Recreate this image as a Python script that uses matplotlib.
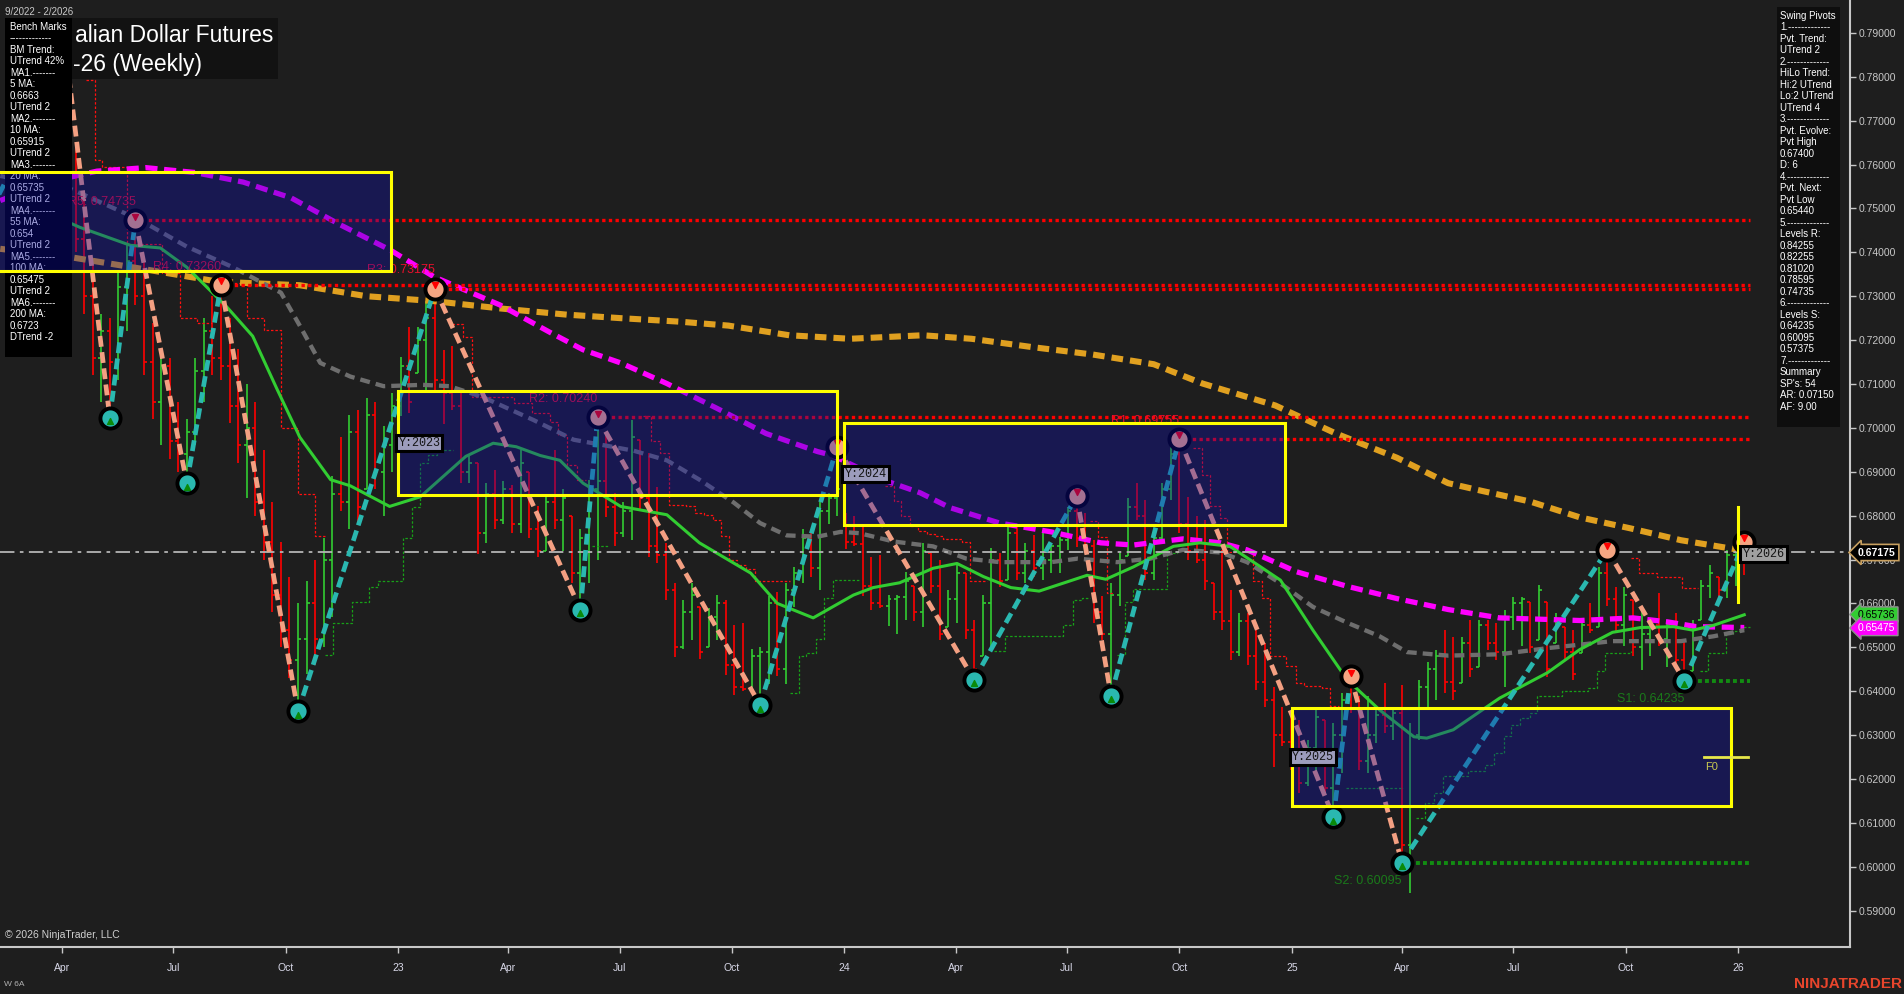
import datetime as dt
import numpy as np
import matplotlib
matplotlib.use('Agg')
import matplotlib.pyplot as plt
from matplotlib.patches import Rectangle

plt.rcParams['font.family'] = ['Liberation Sans', 'DejaVu Sans']

W, H = 1904, 994
BG = '#1e1e1e'

# weekly bars (price * 10000); x = week index counted from 10 Jan 2023
first_bar = -40
bar_hi = [7836, 7640, 7520, 7380, 7260, 7250, 7360, 7420, 7474, 7380,
          7240, 7180, 7160, 7060, 7020, 7160, 7250, 7300, 7326, 7250,
          7180, 7100, 7060, 6950, 6830, 6740, 6660, 6600, 6650, 6700,
          6750, 6890, 6980, 7030, 7040, 7067, 7060, 7004, 7080, 7161,
          7230, 7230, 7290, 7318, 7178, 7186, 7079, 6935, 6921, 6874,
          6904, 6880, 6870, 6949, 6900, 6822, 6850, 6949, 6860, 6799,
          6769, 6882, 7024, 6990, 6852, 6830, 7017, 6973, 6943, 6866,
          6738, 6647, 6608, 6647, 6592, 6590, 6620, 6608, 6550, 6555,
          6495, 6500, 6617, 6625, 6647, 6683, 6769, 6770, 6830, 6852,
          6957, 6805, 6800, 6774, 6705, 6710, 6620, 6620, 6672, 6640,
          6737, 6714, 6699, 6630, 6691, 6669, 6563, 6619, 6726, 6714,
          6775, 6775, 6737, 6756, 6767, 6737, 6752, 6820, 6845, 6805,
          6745, 6616, 6646, 6714, 6840, 6874, 6836, 6767, 6874, 6957,
          6976, 6843, 6800, 6790, 6646, 6722, 6631, 6577, 6577, 6540,
          6509, 6410, 6365, 6350, 6335, 6289, 6357, 6335, 6327, 6395,
          6434, 6388, 6388, 6357, 6418, 6357, 6414, 6327, 6426, 6467,
          6494, 6540, 6524, 6524, 6562, 6562, 6562, 6555, 6585, 6615,
          6615, 6604, 6642, 6604, 6577, 6547, 6540, 6562, 6600, 6684,
          6722, 6638, 6638, 6608, 6593, 6562, 6623, 6562, 6577, 6517,
          6562, 6653, 6687, 6661, 6722, 6735, 6741]
bar_lo = [7540, 7400, 7260, 7120, 7060, 7023, 7110, 7220, 7280, 7120,
          7020, 6960, 6930, 6900, 6874, 6960, 7060, 7120, 7110, 7010,
          6920, 6840, 6800, 6700, 6580, 6500, 6430, 6354, 6440, 6460,
          6500, 6570, 6810, 6770, 6780, 6860, 6860, 6800, 6900, 7026,
          7034, 7125, 7080, 7079, 7009, 7040, 6874, 6874, 6713, 6738,
          6769, 6780, 6760, 6760, 6750, 6705, 6720, 6769, 6720, 6647,
          6586, 6647, 6700, 6796, 6730, 6752, 6744, 6813, 6705, 6691,
          6608, 6478, 6495, 6517, 6473, 6500, 6517, 6437, 6392, 6400,
          6396, 6368, 6417, 6434, 6417, 6592, 6647, 6660, 6630, 6782,
          6800, 6725, 6730, 6617, 6586, 6590, 6548, 6530, 6563, 6560,
          6547, 6623, 6517, 6547, 6555, 6520, 6426, 6479, 6502, 6638,
          6654, 6654, 6646, 6661, 6654, 6669, 6669, 6722, 6729, 6714,
          6555, 6517, 6390, 6593, 6707, 6790, 6654, 6654, 6745, 6836,
          6760, 6699, 6691, 6631, 6563, 6540, 6471, 6479, 6460, 6403,
          6365, 6228, 6274, 6221, 6168, 6183, 6213, 6168, 6113, 6213,
          6350, 6221, 6213, 6281, 6304, 6289, 6008, 5940, 6289, 6365,
          6380, 6395, 6380, 6418, 6433, 6456, 6494, 6471, 6410, 6540,
          6502, 6486, 6517, 6433, 6509, 6471, 6426, 6486, 6532, 6547,
          6593, 6532, 6502, 6479, 6448, 6479, 6502, 6456, 6456, 6423,
          6445, 6562, 6612, 6615, 6612, 6640, 6665]
bar_cl = [7570, 7430, 7300, 7160, 7220, 7150, 7320, 7380, 7300, 7150,
          7060, 7140, 6970, 6940, 6990, 7130, 7220, 7160, 7140, 7050,
          6960, 7000, 6830, 6740, 6620, 6540, 6470, 6520, 6600, 6520,
          6700, 6850, 6830, 6990, 6820, 7030, 6900, 6960, 7050, 7140,
          7060, 7200, 7250, 7110, 7080, 7050, 6900, 6920, 6760, 6850,
          6790, 6860, 6780, 6920, 6770, 6720, 6830, 6790, 6840, 6670,
          6750, 6860, 6880, 6820, 6760, 6810, 6980, 6840, 6730, 6710,
          6630, 6500, 6580, 6620, 6490, 6570, 6600, 6460, 6410, 6405,
          6480, 6490, 6600, 6450, 6630, 6670, 6750, 6680, 6810, 6840,
          6860, 6740, 6735, 6640, 6600, 6595, 6610, 6615, 6650, 6580,
          6720, 6640, 6530, 6610, 6670, 6540, 6450, 6600, 6700, 6650,
          6760, 6670, 6720, 6680, 6700, 6730, 6745, 6810, 6750, 6730,
          6580, 6530, 6620, 6700, 6820, 6800, 6670, 6750, 6860, 6940,
          6780, 6720, 6700, 6650, 6580, 6560, 6490, 6560, 6480, 6420,
          6380, 6300, 6285, 6240, 6190, 6270, 6340, 6180, 6300, 6380,
          6360, 6240, 6300, 6345, 6320, 6350, 6050, 6300, 6410, 6450,
          6480, 6420, 6400, 6510, 6450, 6550, 6510, 6490, 6570, 6600,
          6610, 6500, 6630, 6450, 6560, 6490, 6440, 6550, 6540, 6670,
          6610, 6550, 6620, 6500, 6530, 6550, 6520, 6550, 6470, 6440,
          6550, 6640, 6670, 6630, 6710, 6730, 6718]

# moving averages (week index, price)
ma20_x = [-40, -38.5, -32.6, -29.1, -26.0, -21.3, -18.3, -15.5, -12.8, -9.2, -6.9, -2.3, 1.3, 6.6, 9.8,
          12.5, 15.3, 17.6, 20.3, 24.7, 30.1, 33.9, 39.9, 43.0, 47.2, 51.9, 54.2, 57.3, 61.2, 64.0,
          67.1, 70.3, 73.6, 79.2, 81.4, 84.6, 89.3, 92.4, 95.9, 101.8, 105.6, 109.6, 113.4, 117.4,
          118.9, 122.0, 127.4, 133.0, 136.8, 140.6, 143.9, 147.7, 150.0, 152.4, 156.0]
ma20_y = [0.7470, 0.7457, 0.7416, 0.7410, 0.7366, 0.7275, 0.7209, 0.7090, 0.6979, 0.6882, 0.6868, 0.6821,
          0.6843, 0.6935, 0.6965, 0.6957, 0.6937, 0.6926, 0.6874, 0.6821, 0.6802, 0.6738, 0.6669, 0.6600,
          0.6567, 0.6619, 0.6636, 0.6647, 0.6680, 0.6691, 0.6661, 0.6636, 0.6628, 0.6664, 0.6655, 0.6683,
          0.6730, 0.6738, 0.6730, 0.6653, 0.6539, 0.6426, 0.6357, 0.6296, 0.6293, 0.6312, 0.6384, 0.6442,
          0.6495, 0.6534, 0.6545, 0.6547, 0.6539, 0.6550, 0.6574]
ma55_x = [-47.8, -39.4, -31.5, -26.0, -20.6, -15.0, -12.8, -10.4, -6.9, -3.0, 1.6, 4.7, 8.6, 14.5, 19.2,
          22.3, 26.2, 30.1, 33.9, 37.9, 41.0, 44.1, 47.7, 50.4, 52.6, 56.6, 61.2, 65.1, 69.0, 75.0, 78.1,
          82.7, 86.6, 90.4, 94.8, 97.9, 101.7, 105.6, 109.6, 113.4, 116.6, 121.4, 127.4, 133.0, 140.6,
          148.6, 152.4, 156.0]
ma55_y = [0.7574, 0.7543, 0.7474, 0.7413, 0.7366, 0.7308, 0.7233, 0.7148, 0.7117, 0.7095, 0.7098, 0.7095,
          0.7070, 0.7018, 0.6973, 0.6962, 0.6948, 0.6926, 0.6882, 0.6830, 0.6783, 0.6755, 0.6752, 0.6763,
          0.6760, 0.6741, 0.6730, 0.6702, 0.6694, 0.6694, 0.6702, 0.6694, 0.6702, 0.6722, 0.6716, 0.6694,
          0.6647, 0.6592, 0.6556, 0.6525, 0.6489, 0.6481, 0.6484, 0.6498, 0.6514, 0.6514, 0.6525, 0.6539]
ma100_x = [-47.8, -42.2, -36.5, -30.8, -25.1, -19.4, -13.8, -8.1, -2.2, 2.9, 10.6, 16.5, 20.3, 24.7, 30.1,
           35.9, 41.7, 47.7, 49.5, 55.3, 59.7, 63.2, 69.0, 75.0, 80.8, 84.6, 90.4, 94.8, 97.9, 103.7,
           109.6, 115.4, 121.4, 127.4, 136.8, 143.0, 147.0, 150.4, 156.0]
ma100_y = [0.7518, 0.7560, 0.7585, 0.7593, 0.7582, 0.7560, 0.7524, 0.7463, 0.7405, 0.7344, 0.7280, 0.7217,
           0.7178, 0.7148, 0.7101, 0.7045, 0.6987, 0.6946, 0.6937, 0.6882, 0.6852, 0.6818, 0.6783, 0.6763,
           0.6738, 0.6733, 0.6747, 0.6738, 0.6722, 0.6672, 0.6639, 0.6611, 0.6586, 0.6567, 0.6561, 0.6567,
           0.6558, 0.6547, 0.6545]
ma200_x = [-47.8, -39.3, -30.8, -22.3, -12.8, -5.0, 2.8, 10.7, 18.4, 24.7, 31.6, 37.3, 44.4, 51.5, 60.0,
           65.7, 72.8, 79.9, 87.0, 92.7, 101.2, 108.3, 115.4, 121.4, 125.2, 131.0, 136.8, 142.7, 148.6, 156.0]
ma200_y = [0.7408, 0.7388, 0.7361, 0.7333, 0.7325, 0.7300, 0.7289, 0.7272, 0.7258, 0.7250, 0.7242, 0.7233,
           0.7211, 0.7203, 0.7211, 0.7203, 0.7184, 0.7167, 0.7145, 0.7101, 0.7051, 0.6987, 0.6932, 0.6874,
           0.6857, 0.6832, 0.6796, 0.6771, 0.6744, 0.6720]

# swing pivots
piv_x = [-48, -40, -35, -32, -26, -22, -13, 3, 20, 22, 41, 50, 66, 78, 82, 90, 108, 110, 116, 140, 149, 156]
piv_y = [0.7530, 0.7836, 0.7023, 0.74735, 0.6874, 0.73260, 0.6354, 0.73175, 0.6586, 0.70240, 0.6368,
         0.6957, 0.6426, 0.6845, 0.6390, 0.69755, 0.6113, 0.6434, 0.60095, 0.6722, 0.64235, 0.67400]
piv_kind = 'LHLHLHLHLHLHLHLHLHLHLH'

# resistance / support levels
lvl_name = ['R5', 'R4', 'R3', 'R2', 'R1', 'S1', 'S2']
lvl_price = [0.74735, 0.73260, 0.73175, 0.70240, 0.69755, 0.64235, 0.60095]
lvl_start = [-32, -22, 3, 22, 90, 149, 116]
lvl_end = 156.7

# trailing stop steps
red_steps = [
    ([-37.8, -36.7, -35.9, -33.0, -28.9, -26.8, -24.8, -23.0], [0.7792, 0.7610, 0.7594, 0.7420, 0.7353, 0.7250, 0.7239, 0.7239]),
    ([-21.0, -19.0, -17.0, -15.0, -13.0, -11.0, -9.8], [0.7330, 0.7250, 0.7223, 0.7000, 0.6850, 0.6754, 0.6754]),
    ([5.0, 6.3, 7.3, 12.2, 14.3, 16.4, 17.4, 18.4, 19.6, 20.7], [0.7236, 0.7206, 0.7071, 0.7056, 0.7033, 0.7014, 0.6984, 0.6916, 0.6881, 0.6881]),
    ([27.3, 28.3, 29.3, 30.3, 32.3, 33.4, 34.4, 35.5, 36.4, 37.4, 38.3, 39.4, 40.4, 44.5], [0.7026, 0.6969, 0.6943, 0.6825, 0.6821, 0.6806, 0.6802, 0.6791, 0.6753, 0.6700, 0.6688, 0.6679, 0.6650, 0.6650]),
    ([55.6, 56.6, 57.5, 58.5, 59.5, 60.5, 61.4, 62.4, 64.6, 65.5, 67.5], [0.6867, 0.6833, 0.6799, 0.6776, 0.6764, 0.6758, 0.6754, 0.6746, 0.6739, 0.6650, 0.6650]),
    ([79.5, 80.5, 81.5, 82.3], [0.6787, 0.6752, 0.6623, 0.6623]),
    ([91.6, 92.6, 93.6, 94.7, 95.6, 98.6, 99.6, 100.6, 102.5, 103.6, 104.6, 106.6, 107.6, 108.6], [0.6954, 0.6893, 0.6822, 0.6794, 0.6718, 0.6650, 0.6612, 0.6479, 0.6458, 0.6418, 0.6411, 0.6407, 0.6367, 0.6367]),
    ([142.8, 143.7, 145.8, 148.7, 150.6], [0.6703, 0.6669, 0.6661, 0.6635, 0.6635]),
]
green_steps = [
    ([-9.9, -8.9, -6.7, -4.7, -3.6, -0.7, 0.3, 1.3, 2.2, 3.2, 5.1], [0.6483, 0.6556, 0.6604, 0.6638, 0.6650, 0.6748, 0.6820, 0.6919, 0.6938, 0.6950, 0.6950]),
    ([21.3, 23.3], [0.6731, 0.6731]),
    ([44.5, 45.5, 46.4, 47.5, 48.5, 49.5, 52.5], [0.6396, 0.6480, 0.6487, 0.6518, 0.6613, 0.6654, 0.6654]),
    ([68.3, 69.6, 76.4, 77.6, 78.6, 79.5], [0.6491, 0.6525, 0.6551, 0.6607, 0.6612, 0.6612]),
    ([82.7, 83.6, 84.6, 88.5, 89.7, 90.8], [0.6483, 0.6604, 0.6633, 0.6714, 0.6722, 0.6722]),
    ([109.5, 116.1], [0.6179, 0.6179]),
    ([117.7, 118.7, 119.7, 120.8, 123.75, 125.7, 126.7, 127.9, 128.8, 129.8, 131.0, 131.75, 134.7, 137.8, 138.8, 139.7, 142.8],
     [0.6111, 0.6145, 0.6168, 0.6206, 0.6217, 0.6232, 0.6259, 0.6297, 0.6323, 0.6339, 0.6350, 0.6388, 0.6401, 0.6407, 0.6447, 0.6488, 0.6492]),
    ([150.8, 151.8, 153.9, 154.7, 155.9, 156.7], [0.6445, 0.6487, 0.6531, 0.6536, 0.6546, 0.6546]),
]

# yearly boxes
yr_year = [2022, 2023, 2024, 2025]
yr_top = [0.7582, 0.7084, 0.7011, 0.6362]
yr_bot = [0.7358, 0.6846, 0.6778, 0.6138]
y2026_top, y2026_bot = 0.6820, 0.6604
f0_price = 0.6250
last_price = 0.67175

tick_year = [2022, 2022, 2022, 2023, 2023, 2023, 2023, 2024, 2024, 2024, 2024, 2025, 2025, 2025, 2025, 2026]
tick_month = [4, 7, 10, 1, 4, 7, 10, 1, 4, 7, 10, 1, 4, 7, 10, 1]
tick_text = ['Apr', 'Jul', 'Oct', '23', 'Apr', 'Jul', 'Oct', '24', 'Apr', 'Jul', 'Oct', '25', 'Apr', 'Jul', 'Oct', '26']

# the title is partly hidden by the bench marks panel: only the visible parts are drawn
title_lines = ['alian Dollar Futures', '-26 (Weekly)']

bench_lines = ["Bench Marks", "-------------", "BM Trend:", "UTrend 42%", "MA1.-------", "5 MA:", "0.6663",
               "UTrend 2", "MA2.-------", "10 MA:", "0.65915", "UTrend 2", "MA3.-------", "20 MA:", "0.65735",
               "UTrend 2", "MA4.-------", "55 MA:", "0.654", "UTrend 2", "MA5.-------", "100 MA:", "0.65475",
               "UTrend 2", "MA6.-------", "200 MA:", "0.6723", "DTrend -2"]
swing_lines = ["Swing Pivots", "1.-------------", "Pvt. Trend:", "UTrend 2", "2.-------------", "HiLo Trend:",
               "Hi:2 UTrend", "Lo:2 UTrend", "UTrend 4", "3.-------------", "Pvt. Evolve:", "Pvt High", "0.67400",
               "D: 6", "4.-------------", "Pvt. Next:", "Pvt Low", "0.65440", "5.-------------", "Levels R:",
               "0.84255", "0.82255", "0.81020", "0.78595", "0.74735", "6.-------------", "Levels S:", "0.64235",
               "0.60095", "0.57375", "7.-------------", "Summary", "SP's: 54", "AR: 0.07150", "AF: 9.00"]


def wk(y, m, d):
    return (dt.date(y, m, d) - dt.date(2023, 1, 10)).days / 7.0


fig = plt.figure(figsize=(W / 100, H / 100), dpi=100, facecolor=BG)
ax = fig.add_axes([0, 47 / H, 1850 / W, 947 / H], facecolor=BG)
TF = fig.transFigure

# bars
hi = np.array(bar_hi) / 1e4
lo = np.array(bar_lo) / 1e4
cl = np.array(bar_cl) / 1e4
bx = np.arange(first_bar, first_bar + len(hi))
prev = np.r_[hi[0], cl[:-1]]
cols = np.where(cl >= prev, '#32cd32', '#ff0000')
ax.vlines(bx, lo, hi, colors=cols, lw=1.2, zorder=2)
ax.hlines(np.clip(prev, lo, hi), bx - 0.35, bx, colors=cols, lw=1.2, zorder=2)
ax.hlines(cl, bx, bx + 0.35, colors=cols, lw=1.2, zorder=2)

for xs, ys in red_steps:
    ax.step(xs, ys, where='post', color='#ff1010', lw=0.9, ls=(0, (2, 1.5)), zorder=2)
for xs, ys in green_steps:
    ax.step(xs, ys, where='post', color='#18a018', lw=0.9, ls=(0, (2, 1.5)), zorder=2)

# moving averages
ax.plot(ma200_x, ma200_y, color='#e0a020', lw=4.4, ls=(0, (1.9, 1.15)), zorder=3)
ax.plot(ma100_x, ma100_y, color='#ff00ff', lw=3.8, ls=(0, (2.3, 1.25)), zorder=3)
ax.plot(ma55_x, ma55_y, color='#6e6e6e', lw=3.1, ls=(0, (2.3, 1.4)), zorder=3)
ax.plot(ma20_x, ma20_y, color='#32cd32', lw=2.2, zorder=3)

# current price line
ax.axhline(last_price, color='#b4b4b4', lw=1.3, ls=(0, (8, 3, 2, 3)), zorder=3)

# zig-zag
for i in range(len(piv_x) - 1):
    c = '#2ab8b0' if piv_kind[i] == 'L' else '#f4a082'
    ax.plot(piv_x[i:i + 2], piv_y[i:i + 2], color=c, lw=3.4, ls=(0, (2.3, 1.15)), zorder=4)

# levels
for name, p, s in zip(lvl_name, lvl_price, lvl_start):
    if name.startswith('R'):
        ax.plot([s, lvl_end], [p, p], color='#ff0000', lw=2.4, ls=(0, (1, 1)), zorder=4)
        ax.annotate(f'{name}: {p:.5f}', (s, p), xytext=(0, 13), textcoords='offset points',
                    ha='right', va='center', fontsize=9, color='#e8102c', zorder=5)
    else:
        ax.plot([s, lvl_end], [p, p], color='#128c12', lw=2.8, ls=(0, (1, 0.8)), zorder=4)
        ax.annotate(f'{name}: {p:.5f}', (s, p), xytext=(0, -13), textcoords='offset points',
                    ha='right', va='center', fontsize=9, color='#1a7a1a', zorder=5)

# pivot markers
for x, p, k in zip(piv_x[1:], piv_y[1:], piv_kind[1:]):
    fc = '#2ab8b0' if k == 'L' else '#f4a582'
    ax.scatter([x], [p], s=210, facecolor=fc, edgecolor='black', lw=2.8, zorder=5)
    if k == 'L':
        ax.scatter([x], [p - 0.0008], s=18, marker='^', color='#0a8a0a', zorder=5)
    else:
        ax.scatter([x], [p + 0.0008], s=18, marker='v', color='#ff0000', zorder=5)


# title box and bench marks panel (figure pixel coords)
def fx(x):
    return x / W


def fy(y):
    return 1 - y / H


ax.add_patch(Rectangle((fx(7), fy(79)), 271 / W, 61 / H, transform=TF, fc='#121212', ec='none',
                       zorder=5.8, clip_on=False))
ax.text(fx(75), fy(36), title_lines[0], transform=TF, ha='left', va='center',
        fontsize=16.5, color='white', zorder=5.9)
ax.text(fx(73), fy(64), title_lines[1], transform=TF, ha='left', va='center',
        fontsize=16.5, color='white', zorder=5.9)

ax.add_patch(Rectangle((fx(5), fy(357)), 67 / W, 339 / H, transform=TF, fc='black', ec='none',
                       zorder=6, clip_on=False))
for i, s in enumerate(bench_lines):
    ax.text(fx(10), fy(26.7 + 11.5 * i), s, transform=TF, ha='left', va='center', fontsize=7,
            color='white', zorder=6.5)

# yearly boxes
for yr, t, b in zip(yr_year, yr_top, yr_bot):
    x0, x1 = wk(yr, 1, 1), wk(yr, 12, 26)
    ax.add_patch(Rectangle((x0, b), x1 - x0, t - b, fc='#0d0db2', alpha=0.35, ec='none', zorder=7))
    ax.add_patch(Rectangle((x0, b), x1 - x0, t - b, fill=False, ec='#ffff00', lw=2.2, zorder=8))
    if yr > 2022:
        ax.text(x0, (t + b) / 2, f'Y:{yr}', ha='left', va='center', family='Liberation Mono',
                fontsize=8.5, color='#151515', zorder=9,
                bbox=dict(boxstyle='square,pad=0.18', fc='#9c9cbc', ec='black', lw=2.2))
x26 = wk(2026, 1, 1)
ax.plot([x26, x26], [y2026_bot, y2026_top], color='#ffff00', lw=2.2, zorder=8)
ax.text(x26 + 0.5, (y2026_top + y2026_bot) / 2, 'Y:2026', ha='left', va='center',
        family='Liberation Mono', fontsize=8.5, color='#151515', zorder=9,
        bbox=dict(boxstyle='square,pad=0.18', fc='#a0a0a0', ec='black', lw=2.2))

# F0 marker
ax.plot([151.3, 156.4], [f0_price, f0_price], color='#e8e84a', lw=2, zorder=8)
ax.annotate('F0', (151.3, f0_price), xytext=(1, -7), textcoords='offset points', ha='left',
            va='center', fontsize=8, color='#c8c850', zorder=9)

# swing pivots panel
ax.add_patch(Rectangle((fx(1777), fy(427)), 63 / W, 420 / H, transform=TF, fc='#0e0e0e', ec='none',
                       zorder=9, clip_on=False))
for i, s in enumerate(swing_lines):
    ax.text(fx(1780), fy(15.7 + 11.5 * i), s, transform=TF, ha='left', va='center', fontsize=7,
            color='white', zorder=9.5)

# axes styling
ax.set_xlim(-47.83, 168.36)
ax.set_ylim(0.5817, 0.7975)
yt = np.round(np.arange(0.59, 0.7901, 0.01), 2)
ax.yaxis.tick_right()
ax.set_yticks(yt)
ax.set_yticklabels([f'{v:.5f}' for v in yt])
ax.set_xticks([wk(y, m, 1) for y, m in zip(tick_year, tick_month)])
ax.set_xticklabels(tick_text)
ax.tick_params(axis='y', colors='#c8c8c8', labelsize=7.5, length=4.5, width=1, pad=2)
ax.tick_params(axis='x', colors='#c8c8c8', labelcolor='#d8d8e8', labelsize=7.5, length=4.5, width=1, pad=7)
for side in ['left', 'top']:
    ax.spines[side].set_visible(False)
for side in ['right', 'bottom']:
    ax.spines[side].set_color('#c8c8c8')
    ax.spines[side].set_linewidth(1.5)

# right price labels
fig.text(fx(1858), fy(552.5), f'{last_price:.5f}', ha='left', va='center', fontsize=7.5, color='white',
         fontweight='bold', zorder=10,
         bbox=dict(boxstyle='larrow,pad=0.3', fc='black', ec='#c8a060', lw=1.2))
fig.text(fx(1858), fy(614.5), '0.65736', ha='left', va='center', fontsize=7.5, color='black',
         zorder=10, bbox=dict(boxstyle='larrow,pad=0.25', fc='#32cd32', ec='#909090', lw=1))
fig.text(fx(1858), fy(628), '0.65475', ha='left', va='center', fontsize=7.5, color='white',
         zorder=10.5, bbox=dict(boxstyle='larrow,pad=0.25', fc='#ff00ff', ec='#909090', lw=1))

# misc texts
fig.text(fx(5), fy(12), '9/2022 - 2/2026', ha='left', va='center', fontsize=7, color='#c8c8c8')
fig.text(fx(5), fy(935), '\u00a9 2026 NinjaTrader, LLC', ha='left', va='center', fontsize=7.5,
         color='#d0d0d0')
fig.text(fx(4), fy(985), 'W 6A', ha='left', va='center', fontsize=6, color='#b0b0b0')
fig.text(fx(1902), fy(984), 'NINJATRADER', ha='right', va='center', fontsize=11, fontweight='bold',
         color='#e8452c')

fig.savefig('out.png', dpi=100, facecolor=BG)
